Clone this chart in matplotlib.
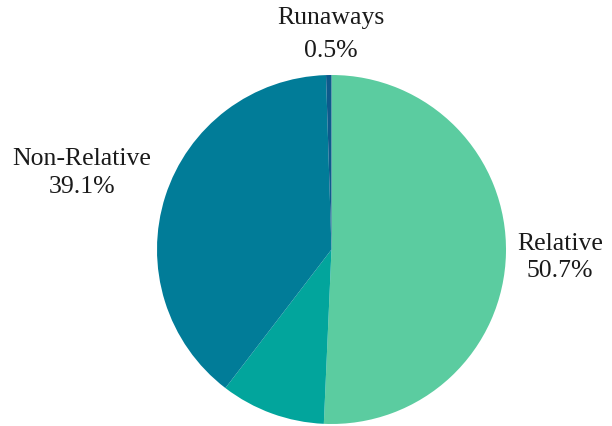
import matplotlib.pyplot as plt
import numpy as np

categories = ['Relative', 'Other', 'Non-Relative', 'Runaways']
shares = [50.7, 9.7, 39.1, 0.5]
show_label = [True, False, True, True]
colors = ['#5bcca0', '#02a59c', '#017c98', '#0d5a8c']

# label anchors in pixel coords: x, name line y, value line y (from top)
label_pos = {'Relative': (560, 244, 271),
             'Non-Relative': (82, 159, 187),
             'Runaways': (331, 18, 51)}

W, H = 612, 427
fig = plt.figure(figsize=(W / 100, H / 100), dpi=100)
ax = fig.add_axes([0, 0, 1, 1])

cx, cy, r = 331.5, 250.5, 174.5
ax.pie(shares, colors=colors, startangle=90, counterclock=False,
       center=(cx, H - cy), radius=r, frame=False,
       wedgeprops=dict(linewidth=0))

font = dict(ha='center', va='center', fontsize=18.5,
            family='Liberation Serif', color='#1a1a1a')
for name, val, show in zip(categories, shares, show_label):
    if not show:
        continue
    x, y1, y2 = label_pos[name]
    ax.text(x, H - y1, name, **font)
    ax.text(x, H - y2, f'{val}%', **font)

ax.set_xlim(0, W)
ax.set_ylim(0, H)
ax.set_aspect('auto')
ax.axis('off')

fig.savefig('out.png', dpi=100)
